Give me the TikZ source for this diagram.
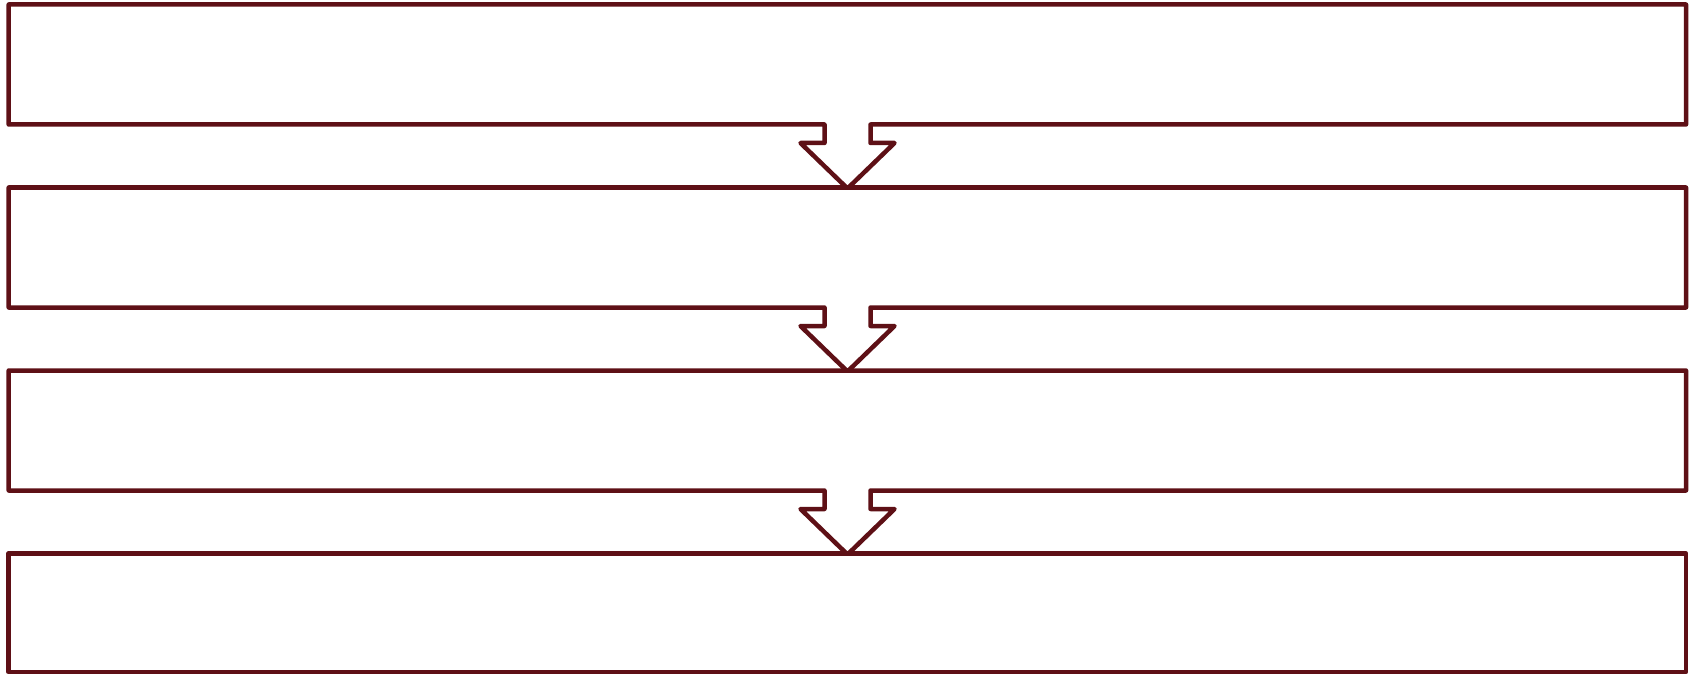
\documentclass[tikz,border=0pt]{standalone}
\definecolor{maroon}{RGB}{94,16,22}
\tikzset{
  boxline/.style={draw=maroon, line width=4.5pt, line join=round, line cap=round, fill=white},
}
\begin{document}
\begin{tikzpicture}[x=1pt,y=-1pt]
\useasboundingbox[fill=white] (0,0) rectangle (1698,674);
% boxes with arrow below
\foreach \t/\n in {4.5/1,187.5/2,370.5/3}{
  \pgfmathsetmacro{\b}{\t+120}
  \pgfmathsetmacro{\s}{\t+138.5}
  \pgfmathsetmacro{\p}{\t+184}
  \coordinate (tl\n) at (8.7,\t);
  \coordinate (tr\n) at (1686,\t);
  \coordinate (br\n) at (1686,\b);
  \coordinate (bl\n) at (8.7,\b);
  \coordinate (tip\n) at (847.5,\p);
  \draw[boxline] (bl\n) -- (tl\n) -- (tr\n) -- (br\n) -- (870.5,\b) -- (870.5,\s) -- (894.5,\s) -- (tip\n) -- (800.5,\s) -- (824.5,\s) -- (824.5,\b) -- cycle;
}
\coordinate (tl4) at (8.7,553.5);
\coordinate (tr4) at (1686,553.5);
\coordinate (br4) at (1686,672);
\coordinate (bl4) at (8.7,672);
\draw[boxline] (bl4) -- (tl4) -- (tr4) -- (br4) -- cycle;
\end{tikzpicture}
\end{document}
